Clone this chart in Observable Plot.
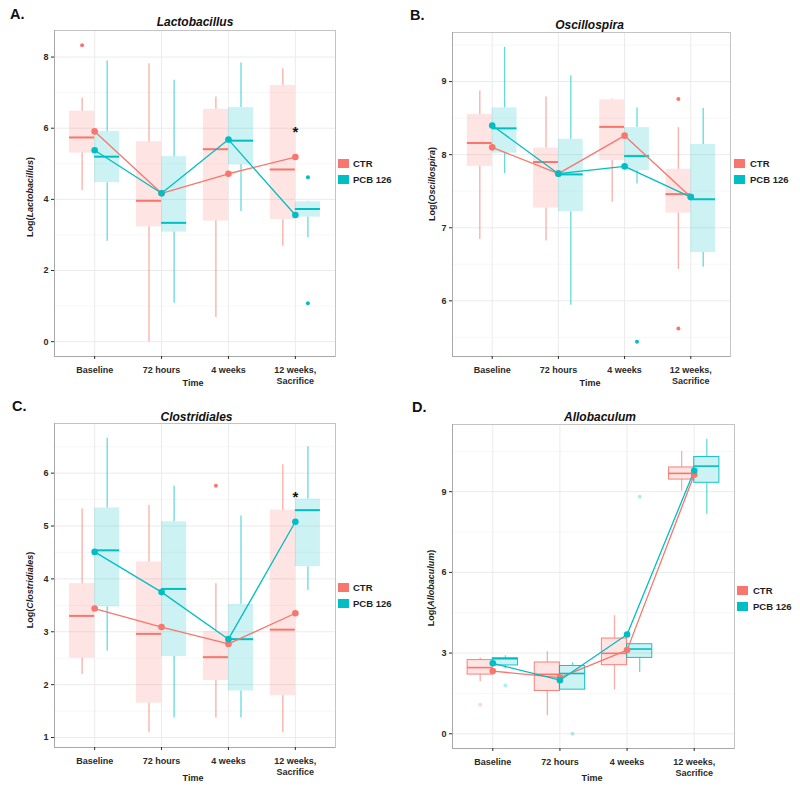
<!DOCTYPE html>
<html><head><meta charset="utf-8">
<script src="https://cdn.jsdelivr.net/npm/d3@7"></script>
<script src="https://cdn.jsdelivr.net/npm/@observablehq/plot@0.6"></script>
<style>
body{margin:0;background:#fff;font-family:"Liberation Sans",Arial,sans-serif;}
#fig{position:relative;width:800px;height:787px;overflow:hidden;background:#fff}
.panel{position:absolute;width:400px}
.panel svg{position:absolute;left:0;top:0}
.t{position:absolute;white-space:nowrap;font-weight:bold;color:#1e1e1e}
.key{position:absolute;width:11px;height:9px}
</style></head><body><div id="fig"></div>
<script>
const categories = ["Baseline", "72 hours", "4 weeks", "12 weeks,\nSacrifice"];
const groups = ["CTR", "PCB 126"];
const groupColors = ["#F8766D", "#00BFC4"];

// each row: [whiskerLow, q1, median, q3, whiskerHigh, mean] per category
const lactoCTR = [[4.25, 5.30, 5.74, 6.48, 6.85, 5.91], [0.00, 3.23, 3.96, 5.62, 7.81, 4.17], [0.68, 3.39, 5.41, 6.53, 6.88, 4.72], [2.68, 3.43, 4.84, 7.20, 7.67, 5.19]];
const lactoPCB = [[2.82, 4.47, 5.20, 5.91, 7.89, 5.38], [1.08, 3.08, 3.34, 5.20, 7.35, 4.17], [3.66, 4.97, 5.65, 6.58, 7.83, 5.68], [2.92, 3.50, 3.73, 3.93, 3.95, 3.56]];
const lactoOutliers = [[1, 0, 8.33], [4, 1, 4.62], [4, 1, 1.08]]; // [category, group, value]
const lactoStars = [[4, 6.03]];
const lactoTicks = [0, 2, 4, 6, 8];

const osciCTR = [[6.84, 7.84, 8.16, 8.55, 8.87, 8.10], [6.82, 7.27, 7.90, 8.09, 8.79, 7.74], [7.35, 7.92, 8.38, 8.75, 8.76, 8.26], [6.43, 7.20, 7.46, 7.80, 8.37, 7.42]];
const osciPCB = [[7.74, 8.02, 8.36, 8.64, 9.47, 8.40], [5.94, 7.22, 7.73, 8.21, 9.08, 7.74], [7.60, 7.78, 7.98, 8.37, 8.64, 7.84], [6.46, 6.66, 7.39, 8.14, 8.63, 7.42]];
const osciOutliers = [[3, 1, 5.44], [4, 0, 8.76], [4, 0, 5.62]];
const osciStars = [];
const osciTicks = [6, 7, 8, 9];

const closCTR = [[2.19, 2.50, 3.30, 3.91, 5.32, 3.44], [1.09, 1.65, 2.96, 4.32, 5.39, 3.09], [1.37, 2.08, 2.52, 3.00, 3.91, 2.77], [1.09, 1.79, 3.04, 5.30, 6.16, 3.35]];
const closPCB = [[2.63, 3.47, 4.54, 5.34, 6.66, 4.51], [1.37, 2.53, 3.81, 5.08, 5.75, 3.75], [1.37, 1.88, 2.86, 3.52, 5.19, 2.86], [3.78, 4.23, 5.30, 5.51, 6.50, 5.08]];
const closOutliers = [[3, 0, 5.76]];
const closStars = [[4, 5.64]];
const closTicks = [1, 2, 3, 4, 5, 6];

const alloCTR = [[1.93, 2.20, 2.46, 2.74, 2.82, 2.33], [0.67, 1.59, 2.21, 2.65, 3.05, 2.09], [1.62, 2.55, 2.99, 3.54, 4.39, 3.11], [9.02, 9.45, 9.68, 9.90, 10.49, 9.63]];
const alloPCB = [[2.41, 2.54, 2.79, 2.81, 2.90, 2.62], [1.64, 1.64, 2.24, 2.52, 2.64, 1.99], [2.28, 2.82, 3.15, 3.33, 3.36, 3.69], [8.16, 9.33, 9.95, 10.29, 10.95, 9.78]];
const alloOutliers = [[1, 0, 1.08], [1, 1, 1.79], [2, 1, 0.00], [3, 1, 8.81]];
const alloStars = [];
const alloTicks = [0, 3, 6, 9];

const panels = [
  {letter: "A.", taxon: "Lactobacillus", ctr: lactoCTR, pcb: lactoPCB, outliers: lactoOutliers, stars: lactoStars, ticks: lactoTicks,
   left: 0, top: 0, h: 390, m: [30, 65, 34, 54], L: {x: 10, base: 19.5}, T: {x: 195, base: 26.5}, Y: {x: 30, y: 197}, X: {x: 193, base: 386.5}, G: {x: 338, y: 159, tx: 353}, outlined: false},
  {letter: "B.", taxon: "Oscillospira", ctr: osciCTR, pcb: osciPCB, outliers: osciOutliers, stars: osciStars, ticks: osciTicks,
   left: 400, top: 0, h: 390, m: [32, 70, 34, 52], L: {x: 10, base: 20}, T: {x: 189.5, base: 29}, Y: {x: 32, y: 184}, X: {x: 190, base: 386.5}, G: {x: 334, y: 159, tx: 350}, outlined: false},
  {letter: "C.", taxon: "Clostridiales", ctr: closCTR, pcb: closPCB, outliers: closOutliers, stars: closStars, ticks: closTicks,
   left: 0, top: 390, h: 397, m: [33, 65, 40, 54], L: {x: 12, base: 21}, T: {x: 196.5, base: 31.5}, Y: {x: 30, y: 200}, X: {x: 193, base: 391.5}, G: {x: 338, y: 193, tx: 353}, outlined: false},
  {letter: "D.", taxon: "Allobaculum", ctr: alloCTR, pcb: alloPCB, outliers: alloOutliers, stars: alloStars, ticks: alloTicks,
   left: 400, top: 390, h: 397, m: [34, 66, 39, 52], L: {x: 12, base: 22}, T: {x: 200, base: 30.7}, Y: {x: 31, y: 198}, X: {x: 192, base: 392}, G: {x: 337, y: 196, tx: 353}, outlined: true}
];

const fig = document.getElementById("fig");

function addText(parent, html, o) {
  const el = document.createElement("div");
  el.className = "t";
  el.innerHTML = html;
  const s = o.size;
  el.style.fontSize = s + "px";
  el.style.lineHeight = s + "px";
  if (o.color) el.style.color = o.color;
  if (o.rotate) {
    el.style.left = o.x + "px"; el.style.top = o.y + "px";
    el.style.transform = "translate(-50%,-50%) rotate(-90deg)";
  } else {
    el.style.left = o.x + "px";
    el.style.top = (o.base - 0.8465 * s) + "px";
    if (o.center) el.style.transform = "translateX(-50%)";
  }
  parent.appendChild(el);
}

for (const p of panels) {
  const rows = [];
  [p.ctr, p.pcb].forEach((arr, g) => arr.forEach((s, i) => rows.push({
    cat: i + 1, g, group: groups[g], lo: s[0], q1: s[1], med: s[2], q3: s[3], hi: s[4], mean: s[5]
  })));
  const off = 0.375;
  const bx1 = d => d.g === 0 ? d.cat - off : d.cat;
  const bx2 = d => d.g === 0 ? d.cat : d.cat + off;
  const bxc = d => d.cat + (d.g === 0 ? -off / 2 : off / 2);
  const outl = p.outliers.map(([cat, g, v]) => ({cat, g, group: groups[g], v}));
  const stars = p.stars.map(([cat, v]) => ({cat, v}));

  const vals = rows.flatMap(d => [d.lo, d.hi, d.mean]).concat(outl.map(d => d.v));
  const vmin = d3.min(vals), vmax = d3.max(vals), pad = (vmax - vmin) * 0.05;
  const ydom = [vmin - pad, vmax + pad];
  const xdom = [0.4, 4.6];
  const step = p.ticks[1] - p.ticks[0];
  const minor = d3.range(p.ticks[0] - step / 2, ydom[1], step).filter(v => v > ydom[0]);

  const ctrRows = rows.filter(d => d.g === 0), pcbRows = rows.filter(d => d.g === 1);

  const svg = Plot.plot({
    width: 400, height: p.h,
    marginTop: p.m[0], marginRight: p.m[1], marginBottom: p.m[2], marginLeft: p.m[3],
    x: {domain: xdom, axis: null},
    y: {domain: ydom, axis: null},
    color: {domain: groups, range: groupColors},
    style: {fontFamily: "'Liberation Sans', Arial, sans-serif", fontSize: "9px", fontWeight: "bold", color: "#2a2a2a", background: "transparent", overflow: "visible"},
    marks: [
      Plot.ruleY(minor, {stroke: "#f3f3f3", strokeWidth: 0.7}),
      Plot.ruleY(p.ticks, {stroke: "#ebebeb", strokeWidth: 1}),
      Plot.ruleX([1, 2, 3, 4], {stroke: "#ebebeb", strokeWidth: 1}),
      Plot.rect(rows, {x1: bx1, x2: bx2, y1: "q1", y2: "q3", fill: "group", fillOpacity: 0.2,
        stroke: p.outlined ? "group" : null, strokeWidth: 1, strokeOpacity: 0.9}),
      Plot.ruleX(rows, {x: bxc, y1: "lo", y2: "q1", stroke: "group", strokeOpacity: 0.6, strokeWidth: 1.3}),
      Plot.ruleX(rows, {x: bxc, y1: "q3", y2: "hi", stroke: "group", strokeOpacity: 0.6, strokeWidth: 1.3}),
      Plot.ruleY(rows, {x1: bx1, x2: bx2, y: "med", stroke: "group", strokeWidth: p.outlined ? 1.6 : 2}),
      Plot.dot(outl, {x: d => d.cat + (d.g === 0 ? -off / 2 : off / 2), y: "v", fill: "group", r: 2, fillOpacity: p.outlined ? 0.3 : 1}),
      Plot.line(ctrRows, {x: "cat", y: "mean", stroke: "group", strokeWidth: 1.3}),
      Plot.line(pcbRows, {x: "cat", y: "mean", stroke: "group", strokeWidth: 1.3}),
      Plot.dot(rows, {x: "cat", y: "mean", fill: "group", r: 3.3}),
      Plot.text(stars, {x: "cat", y: "v", text: () => "*", fontSize: 15, fontWeight: "bold", fill: "#111", dy: 5}),
      Plot.frame({stroke: "#c4c4c4", strokeWidth: 1}),
      Plot.ruleX([xdom[0]], {stroke: "#a8a8a8", strokeWidth: 1}),
      Plot.ruleY([ydom[0]], {stroke: "#a8a8a8", strokeWidth: 1}),
      Plot.axisX([1, 2, 3, 4], {tickFormat: i => categories[i - 1], tickSize: 3, tickPadding: 6, label: null, fontSize: 9, fontWeight: "bold", lineHeight: 1.17}),
      Plot.axisY(p.ticks, {tickFormat: d => String(d), tickSize: 3, tickPadding: 3, label: null, fontSize: 9, fontWeight: "bold"})
    ]
  });

  const div = document.createElement("div");
  div.className = "panel";
  div.style.left = p.left + "px";
  div.style.top = p.top + "px";
  div.style.height = p.h + "px";
  div.appendChild(svg);
  fig.appendChild(div);

  addText(div, p.letter, {x: p.L.x, base: p.L.base, size: 14.5, color: "#111"});
  addText(div, "<i>" + p.taxon + "</i>", {x: p.T.x, base: p.T.base, size: 12, center: true, color: "#111"});
  addText(div, "Log(<i>" + p.taxon + "</i>)", {x: p.Y.x, y: p.Y.y, size: 9, rotate: true, color: "#1e1e1e"});
  addText(div, "Time", {x: p.X.x, base: p.X.base, size: 9, center: true, color: "#1e1e1e"});
  groups.forEach((g, k) => {
    const key = document.createElement("div");
    key.className = "key";
    key.style.left = p.G.x + "px";
    key.style.top = (p.G.y + 16 * k) + "px";
    key.style.background = groupColors[k];
    div.appendChild(key);
    addText(div, g, {x: p.G.tx, base: p.G.y + 16 * k + 8, size: 9.5, color: "#1e1e1e"});
  });
}
</script>
</body></html>
